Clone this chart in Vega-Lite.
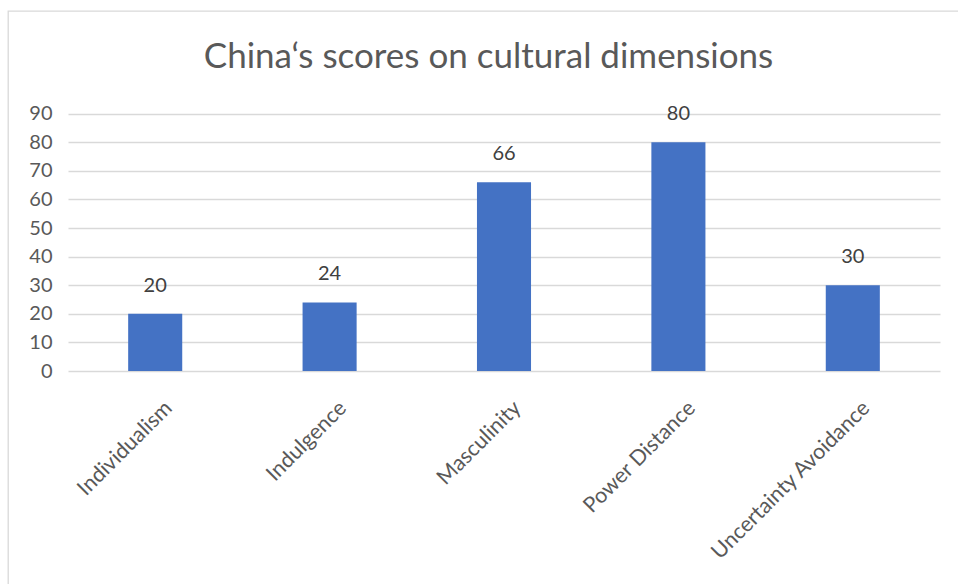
{
  "$schema": "https://vega.github.io/schema/vega-lite/v6.json",
  "width": 955,
  "height": 578,
  "autosize": {"type": "none"},
  "padding": {"left": 8, "top": 11, "right": 0, "bottom": 0},
  "background": "white",
  "config": {
    "view": {"stroke": "#d9d9d9", "strokeWidth": 1.3},
    "font": "Lato"
  },
  "title": {
    "text": "China‘s scores on cultural dimensions",
    "font": "Lato",
    "fontSize": 35,
    "fontWeight": "normal",
    "color": "#595959",
    "anchor": "middle",
    "dx": 3,
    "offset": -64
  },
  "data": {
    "values": [
      {"dimension": "Individualism", "score": 20},
      {"dimension": "Indulgence", "score": 24},
      {"dimension": "Masculinity", "score": 66},
      {"dimension": "Power Distance", "score": 80},
      {"dimension": "Uncertainty Avoidance", "score": 30}
    ]
  },
  "encoding": {
    "x": {
      "field": "dimension",
      "type": "nominal",
      "sort": null,
      "scale": {"range": [60, 932], "paddingInner": 0.69, "paddingOuter": 0.345},
      "axis": {
        "title": null,
        "domain": false,
        "ticks": false,
        "labelAngle": -45,
        "labelAlign": "right",
        "labelBaseline": "top",
        "labelPadding": 0,
        "labelOffset": 6,
        "offset": -192,
        "labelFont": "Lato",
        "labelFontSize": 21.5,
        "labelColor": "#595959",
        "labelLimit": 400
      }
    },
    "y": {
      "field": "score",
      "type": "quantitative",
      "scale": {"domain": [0, 90], "range": [360, 102.7], "nice": false, "zero": true},
      "axis": {
        "title": null,
        "values": [0, 10, 20, 30, 40, 50, 60, 70, 80, 90],
        "grid": true,
        "gridColor": "#d9d9d9",
        "gridWidth": 1.3,
        "domain": false,
        "ticks": false,
        "labelPadding": 0,
        "offset": -44,
        "labelFont": "Lato",
        "labelFontSize": 20,
        "labelColor": "#595959"
      }
    }
  },
  "layer": [
    {"mark": {"type": "bar", "color": "#4472C4"}},
    {
      "mark": {"type": "text", "baseline": "alphabetic", "dy": -22, "fontSize": 20, "font": "Lato", "color": "#404040"},
      "encoding": {"text": {"field": "score", "type": "quantitative"}}
    }
  ]
}
